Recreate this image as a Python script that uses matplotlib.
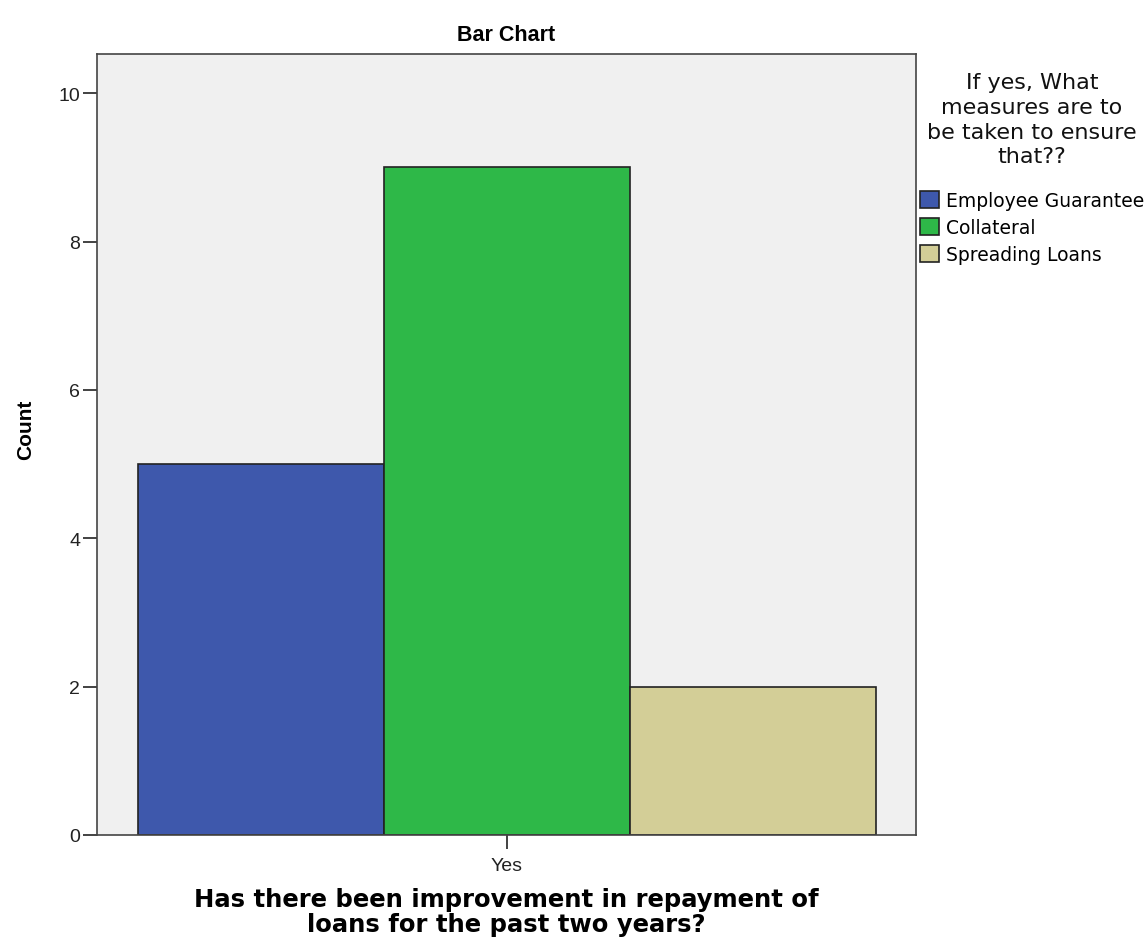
import numpy as np
import matplotlib.pyplot as plt
from matplotlib.ticker import MultipleLocator

# data
category = ["Yes"]
measures = ["Employee Guarantee", "Collateral", "Spreading Loans"]
counts = [5, 9, 2]
colors = ["#3E58AC", "#2EB848", "#D3CE97"]
legend_title = "If yes, What\nmeasures are to\nbe taken to ensure\nthat??"

plt.rcParams['font.family'] = ['Liberation Sans', 'DejaVu Sans']

W, H = 1147, 953
fig = plt.figure(figsize=(W / 100, H / 100), dpi=100)
ax = fig.add_axes([97 / W, 1 - 836 / H, (916 - 97) / W, (836 - 55) / H])
ax.set_facecolor("#F0F0F0")

# one cluster, bars side by side
offsets = np.arange(len(measures)) - (len(measures) - 1) / 2
for off, c, col, lab in zip(offsets, counts, colors, measures):
    ax.bar(0 + off, c, width=1.0, color=col, edgecolor="#222222", linewidth=1.2, label=lab)

ax.set_xlim(-1.667, 1.663)
ax.set_ylim(0, 10.53)
ax.set_xticks([0])
ax.set_xticklabels(category, fontsize=14, color="#222222")
ax.yaxis.set_major_locator(MultipleLocator(2))
ax.tick_params(axis="y", labelsize=14, length=10, width=1.2, colors="#222222", pad=2)
ax.tick_params(axis="x", length=10, width=1.2, colors="#222222", pad=6)
for s in ax.spines.values():
    s.set_color("#444444")
    s.set_linewidth(1.2)

ax.set_title("Bar Chart", fontsize=15.5, fontweight="bold", pad=10)
ax.set_ylabel("Count", fontsize=15, fontweight="bold")
ax.yaxis.set_label_coords(-0.076, 0.52)
ax.set_xlabel("Has there been improvement in repayment of\nloans for the past two years?",
              fontsize=17.5, fontweight="bold", family="DejaVu Sans", labelpad=9,
              linespacing=1.07)

# legend title drawn as centred text, entries as a frameless legend
fig.text(1032 / W, 1 - 73 / H, legend_title, ha="center", va="top",
         multialignment="center", fontsize=16, family="DejaVu Sans",
         linespacing=1.3, color="#111111")
leg = ax.legend(loc="upper left", bbox_to_anchor=(920 / W, 1 - 192 / H),
                bbox_transform=fig.transFigure, frameon=False,
                prop={"family": "DejaVu Sans", "size": 13.5}, handlelength=1.0,
                handleheight=1.0, handletextpad=0.4, labelspacing=0.42,
                borderaxespad=0, borderpad=0)

fig.savefig("out.png", dpi=100)
